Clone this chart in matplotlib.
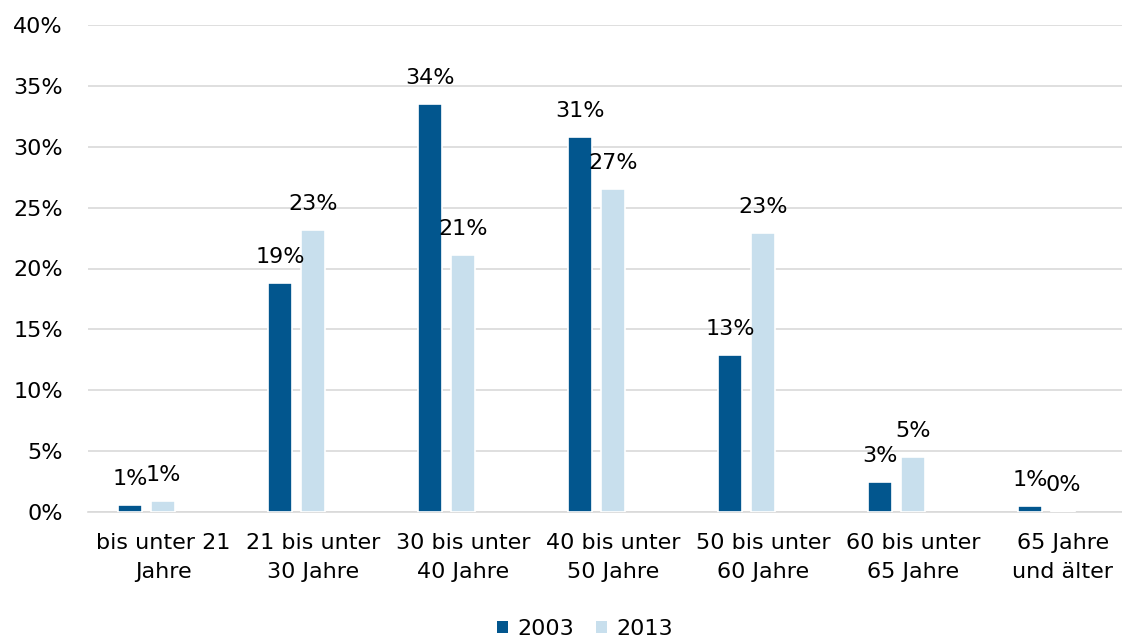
import matplotlib
matplotlib.use("Agg")
import matplotlib.pyplot as plt
import numpy as np
from matplotlib.patches import Patch

categories = ["bis unter 21\nJahre", "21 bis unter\n30 Jahre", "30 bis unter\n40 Jahre",
              "40 bis unter\n50 Jahre", "50 bis unter\n60 Jahre", "60 bis unter\n65 Jahre",
              "65 Jahre\nund älter"]
series_names = ["2003", "2013"]
values_2003 = [0.6, 18.8, 33.5, 30.8, 12.9, 2.5, 0.5]
values_2013 = [0.9, 23.2, 21.1, 26.5, 22.9, 4.5, 0.1]
yticks = [0, 5, 10, 15, 20, 25, 30, 35, 40]

colors = ["#02568E", "#C8DFED"]

plt.rcParams['font.family'] = ['DejaVu Sans']

fig = plt.figure(figsize=(11.22, 6.39), dpi=100)
ax = fig.add_axes([88/1122, 127/639, 1050/1122, 487/639])

x = np.arange(len(categories))
bw = 0.165
offsets = [-0.22, 0.0]
for vals, off, col in zip([values_2003, values_2013], offsets, colors):
    ax.bar(x + off, vals, width=bw, color=col, edgecolor="white", linewidth=1.2, zorder=3)
    for xi, v in zip(x + off, vals):
        ax.annotate(f"{int(np.floor(v + 0.5))}%", (xi, v), xytext=(0, 11.5), textcoords="offset points",
                    ha="center", va="bottom", fontsize=16, color="black", zorder=4)

ax.set_xlim(-0.5, len(categories) - 0.5)
ax.set_ylim(0, 40)
ax.set_yticks(yticks)
ax.set_yticklabels([f"{t}%" for t in yticks])
ax.yaxis.grid(True, color="#D9D9D9", linewidth=1.2, zorder=0)
ax.set_axisbelow(True)
ax.set_xticks(x)
ax.set_xticklabels(categories, linespacing=1.6)
ax.tick_params(axis="y", length=0, pad=18, labelsize=16)
ax.tick_params(axis="x", length=0, pad=15, labelsize=16)
for s in ["left", "right", "top"]:
    ax.spines[s].set_visible(False)
ax.spines["bottom"].set_color("#D9D9D9")
ax.spines["bottom"].set_linewidth(1.2)

handles = [Patch(facecolor=c, edgecolor="none") for c in colors]
fig.legend(handles, series_names, loc="center", bbox_to_anchor=(585/1122, 1 - 629/639),
           ncol=2, frameon=False, fontsize=16, handlelength=0.5, handleheight=0.5,
           handletextpad=0.4, columnspacing=1.0)

fig.savefig("out.png", dpi=100)
